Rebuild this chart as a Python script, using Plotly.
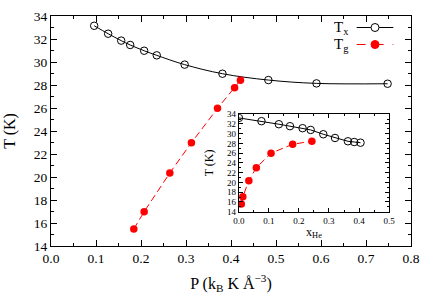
import plotly.graph_objects as go

# Main panel data
p_tx = [0.096, 0.127, 0.156, 0.176, 0.207, 0.235, 0.297, 0.381, 0.483, 0.590, 0.748]
t_x = [33.15, 32.46, 31.86, 31.48, 30.98, 30.58, 29.77, 28.98, 28.43, 28.14, 28.11]
p_tg = [0.184, 0.207, 0.264, 0.312, 0.370, 0.408, 0.421]
t_g = [15.48, 16.98, 20.35, 22.98, 25.97, 27.77, 28.41]

# Inset data
xhe_tx = [0.0, 0.075, 0.133, 0.170, 0.212, 0.239, 0.281, 0.320, 0.363, 0.384, 0.405]
tx_in = [33.24, 32.57, 31.95, 31.54, 31.13, 30.78, 29.89, 29.13, 28.45, 28.30, 28.16]
xhe_tg = [0.008, 0.013, 0.033, 0.058, 0.107, 0.179, 0.243]
tg_in = [15.58, 17.08, 20.37, 23.04, 26.00, 27.84, 28.46]

FONT = "Liberation Serif"
RED = "#ff0000"

fig = go.Figure()
fig.add_trace(go.Scatter(x=p_tx, y=t_x, mode="lines+markers",
                         line=dict(color="black", width=1, shape="spline"),
                         marker=dict(symbol="circle-open", size=7.5, color="black", line=dict(width=1)),
                         xaxis="x", yaxis="y", showlegend=False))
fig.add_trace(go.Scatter(x=p_tg, y=t_g, mode="lines+markers",
                         line=dict(color=RED, width=1, dash="7px,4px"),
                         marker=dict(symbol="circle", size=7.5, color=RED),
                         xaxis="x", yaxis="y", showlegend=False))
fig.add_trace(go.Scatter(x=xhe_tx, y=tx_in, mode="lines+markers",
                         line=dict(color="black", width=1),
                         marker=dict(symbol="circle-open", size=7.5, color="black", line=dict(width=1)),
                         xaxis="x2", yaxis="y2", showlegend=False))
fig.add_trace(go.Scatter(x=xhe_tg, y=tg_in, mode="lines+markers",
                         line=dict(color=RED, width=1, dash="7px,4px"),
                         marker=dict(symbol="circle", size=7.5, color=RED),
                         xaxis="x2", yaxis="y2", showlegend=False))

axis_common = dict(showgrid=False, zeroline=False, showline=True, linecolor="black",
                   linewidth=1.2, mirror="allticks", ticks="inside", tickcolor="black",
                   automargin=False)

fig.update_layout(
    template="none",
    width=436, height=305,
    margin=dict(l=51, r=25, t=16, b=59),
    paper_bgcolor="white", plot_bgcolor="white",
    font=dict(family=FONT, size=13.5, color="black"),
    xaxis=dict(range=[0, 0.8], dtick=0.1, tickformat=".1f", ticklen=6,
               minor=dict(ticks="inside", dtick=0.05, ticklen=3, tickcolor="black"),
               title=dict(text="P (k<sub>B</sub> K Å<sup>−3</sup>)", standoff=12),
               domain=[0, 1], **axis_common),
    yaxis=dict(range=[14, 34], dtick=2, ticklen=6,
               minor=dict(ticks="inside", dtick=1, ticklen=3, tickcolor="black"),
               title=dict(text="T (K)", standoff=14),
               domain=[0, 1], **axis_common),
    xaxis2=dict(range=[0, 0.5], dtick=0.1, tickformat=".1f", ticklen=4,
                minor=dict(ticks="inside", dtick=0.05, ticklen=2, tickcolor="black"),
                tickfont=dict(size=9),
                title=dict(text="x<sub>He</sub>", standoff=2, font=dict(size=12)),
                domain=[0.522, 0.939], anchor="y2", **axis_common),
    yaxis2=dict(range=[14, 34], dtick=2, ticklen=4,
                minor=dict(ticks="inside", dtick=1, ticklen=2, tickcolor="black"),
                tickfont=dict(size=9),
                title=dict(text="T (K)", standoff=10, font=dict(size=12)),
                domain=[0.149, 0.573], anchor="x2", **axis_common),
)

# Legend (gnuplot-style: label left, sample right)
leg = [("T<sub>x</sub>", 0.950, "black", "solid", "black", "white"),
       ("T<sub>g</sub>", 0.876, RED, "dash", RED, RED)]
for text, yy, lc, dash, mc, fc in leg:
    fig.add_annotation(x=0.833, y=yy, xref="paper", yref="paper", text=text,
                       showarrow=False, xanchor="right", yanchor="middle",
                       font=dict(family=FONT, size=15))
    fig.add_shape(type="line", xref="paper", yref="paper", x0=0.849, x1=0.951, y0=yy, y1=yy,
                  line=dict(color=lc, width=1, dash=dash))
    fig.add_shape(type="circle", xref="paper", yref="paper", xsizemode="pixel", ysizemode="pixel",
                  xanchor=0.900, yanchor=yy, x0=-4, x1=4, y0=-4, y1=4,
                  line=dict(color=mc, width=1), fillcolor=fc)

fig.write_html("out.html", config={"displayModeBar": False},
               post_script="document.body.style.margin='0';document.body.style.overflow='hidden';")
